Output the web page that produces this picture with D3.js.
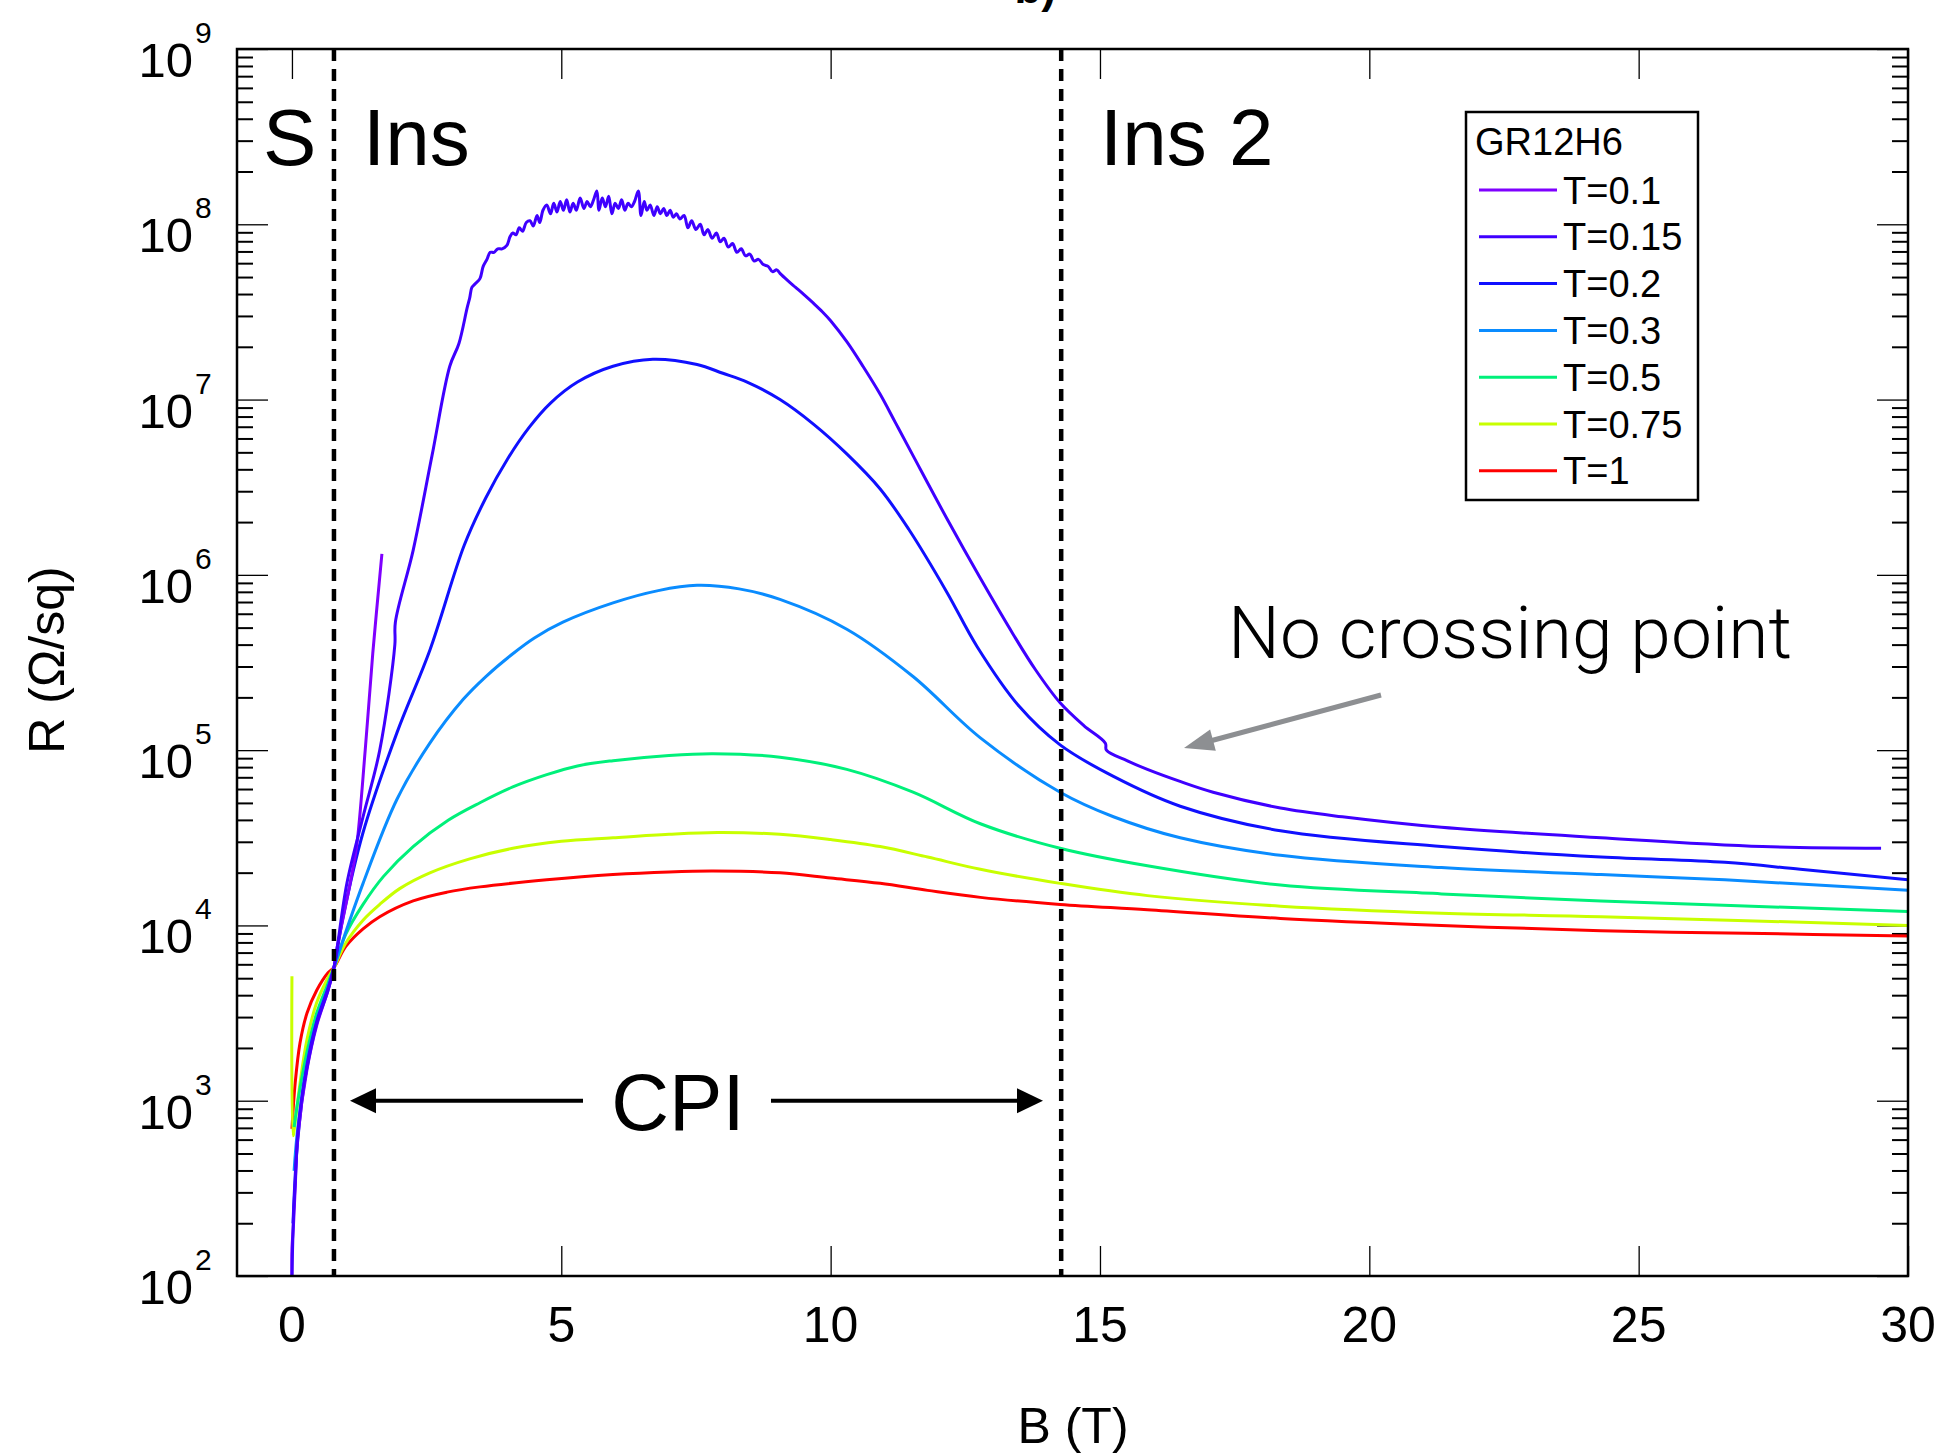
<!DOCTYPE html>
<html>
<head>
<meta charset="utf-8">
<script src="https://cdn.jsdelivr.net/npm/d3@7"></script>
<style>
  body { margin: 0; background: #fff; }
  svg { display: block; }
  text { font-family: "Liberation Sans", Arial, sans-serif; fill: #000; }
  .frame { fill: none; stroke: #000; stroke-width: 2.5; }
  .axis path { display: none; }
  .axis line { stroke: #000; }
  .major line { stroke-width: 1.3; }
  .minor line { stroke-width: 2; }
  .curve { fill: none; stroke-width: 3; stroke-linejoin: round; }
</style>
</head>
<body>
<script>
// ---- data ----
const labels = ['T=0.1', 'T=0.15', 'T=0.2', 'T=0.3', 'T=0.5', 'T=0.75', 'T=1'];
const colors = ['#7f00ff', '#3f00ff', '#1010ff', '#0a8cff', '#00f07a', '#c8ff00', '#ff0000'];

// B in tesla, R as log10(R / Ohm per square)
const bT01 = [0, 0, 0.03, 0.06, 0.11, 0.28, 0.46, 0.67, 0.78, 0.83, 1.08, 1.2, 1.36, 1.5, 1.67];
const rT01 = [2.0, 2.15, 2.3, 2.5, 2.8, 3.18, 3.43, 3.63, 3.76, 3.86, 4.24, 4.45, 5.0, 5.55, 6.12];

const bT015 = [0, 0.03, 0.06, 0.11, 0.2, 0.28, 0.46, 0.67, 0.78, 1.02, 1.32, 1.63, 1.91, 1.92, 2.25, 2.6, 2.93,
  3.1, 3.25, 3.3, 3.34, 3.4, 3.49, 3.55, 3.62, 3.68, 3.75, 3.82, 3.9, 3.99, 4.05, 4.1, 4.16, 4.22, 4.28, 4.35,
  4.42, 4.48, 4.55, 4.6, 4.66, 4.73, 4.8, 4.86, 4.92, 4.98, 5.04, 5.1, 5.16, 5.22, 5.28, 5.35, 5.42, 5.48, 5.54,
  5.6, 5.66, 5.7, 5.76, 5.82, 5.88, 5.94, 6.0, 6.06, 6.12, 6.18, 6.24, 6.3, 6.36, 6.43, 6.48, 6.54, 6.59, 6.65,
  6.72, 6.78, 6.84, 6.9, 6.96, 7.02, 7.08, 7.14, 7.2, 7.28, 7.35, 7.42, 7.5, 7.58, 7.65, 7.72, 7.8, 7.88, 7.95,
  8.02, 8.1, 8.18, 8.26, 8.34, 8.42, 8.5, 8.58, 8.66, 8.75, 8.84, 8.92, 9.0, 9.06, 9.2, 9.35, 9.5, 9.68, 9.85,
  10.0, 10.3, 10.6, 10.92, 11.2, 11.53, 12.16, 12.78, 13.39, 13.8, 14.26, 14.7, 15.1,
  15.12, 15.5, 15.88, 16.5, 17.1, 18.35, 19.5, 21.34, 24.3, 27.3, 29.5];
const rT015 = [2.0, 2.35, 2.53, 2.82, 3.05, 3.19, 3.44, 3.63, 3.76, 4.24, 4.62, 5.0, 5.6, 5.73, 6.14, 6.68, 7.19,
  7.32, 7.52, 7.58, 7.64, 7.66, 7.69, 7.76, 7.8, 7.84, 7.84, 7.86, 7.86, 7.88, 7.93, 7.95, 7.94, 7.98, 7.96, 8.01,
  8.02, 7.99, 8.05, 8.01, 8.08, 8.11, 8.06, 8.12, 8.07, 8.13, 8.08, 8.14, 8.07, 8.12, 8.08, 8.15, 8.09, 8.13, 8.1,
  8.14, 8.19, 8.08, 8.15, 8.1, 8.16, 8.06, 8.12, 8.09, 8.14, 8.08, 8.12, 8.1, 8.13, 8.19, 8.05, 8.13, 8.08, 8.11,
  8.05, 8.1, 8.06, 8.09, 8.05, 8.08, 8.04, 8.06, 8.03, 8.05, 7.98, 8.02, 7.97, 8.0, 7.94, 7.97, 7.92, 7.95, 7.9,
  7.92, 7.87, 7.89, 7.84, 7.86, 7.82, 7.83, 7.79, 7.8, 7.77, 7.76, 7.73, 7.74, 7.72, 7.68, 7.64, 7.6, 7.55, 7.5,
  7.45, 7.33, 7.19, 7.03, 6.87, 6.68, 6.32, 5.98, 5.66, 5.46, 5.27, 5.14, 5.04,
  5.0, 4.94, 4.89, 4.82, 4.76, 4.67, 4.62, 4.56, 4.5, 4.45, 4.44];

const bT02 = [0.02, 0.1, 0.28, 0.46, 0.67, 0.78, 0.95, 1.32, 1.95, 2.56, 3.2, 3.6, 4.0, 4.4, 4.8, 5.3, 5.96, 6.7,
  7.52, 8.0, 8.45, 9.06, 9.68, 10.3, 10.92, 11.45, 12.16, 12.72, 13.5, 14.26, 15.25, 16.49, 18.35, 21.34, 24.3,
  26.6, 28, 30];
const rT02 = [2.3, 2.75, 3.2, 3.45, 3.64, 3.76, 4.05, 4.53, 5.1, 5.57, 6.17, 6.44, 6.66, 6.84, 6.98, 7.1, 7.19, 7.23,
  7.2, 7.15, 7.1, 7.0, 6.86, 6.69, 6.49, 6.26, 5.9, 5.59, 5.25, 5.03, 4.85, 4.68, 4.54, 4.45, 4.39,
  4.36, 4.32, 4.26];

const bT03 = [0.04, 0.1, 0.28, 0.46, 0.67, 0.78, 1.32, 1.95, 2.56, 3.18, 3.6, 4.1, 4.5, 5.03, 5.96, 6.8, 7.52, 8.3,
  9.06, 10.3, 11.53, 12.78, 14.26, 15.25, 16.49, 18.35, 21.34, 24.3, 26.6, 30];
const rT03 = [2.6, 2.82, 3.22, 3.46, 3.65, 3.76, 4.24, 4.72, 5.04, 5.29, 5.42, 5.55, 5.64, 5.73, 5.84, 5.91, 5.94,
  5.92, 5.86, 5.69, 5.42, 5.07, 4.76, 4.62, 4.5, 4.4, 4.33, 4.29, 4.26, 4.2];

const bT05 = [0.04, 0.1, 0.28, 0.46, 0.67, 0.78, 1.0, 1.32, 1.7, 2.25, 2.9, 3.49, 4.1, 4.73, 5.3, 5.96, 7.0, 7.82,
  9.06, 10.3, 11.53, 12.78, 14.26, 15.88, 18.35, 21.34, 24.3, 30];
const rT05 = [2.85, 2.98, 3.28, 3.5, 3.67, 3.76, 3.95, 4.12, 4.28, 4.45, 4.6, 4.7, 4.79, 4.86, 4.91, 4.94, 4.97, 4.98,
  4.96, 4.89, 4.76, 4.58, 4.44, 4.34, 4.23, 4.18, 4.14, 4.08];

const bT075 = [0, 0.02, 0.06, 0.15, 0.28, 0.46, 0.65, 0.78, 1.0, 1.32, 1.63, 2.0, 2.56, 3.3, 4.1, 5.0, 5.96, 7.0,
  7.9, 9.06, 10.0, 10.92, 11.8, 12.78, 14.26, 15.88, 18.35, 21.34, 24.3, 30];
const rT075 = [3.71, 2.8, 2.88, 3.1, 3.35, 3.56, 3.69, 3.76, 3.9, 4.03, 4.12, 4.21, 4.3, 4.38, 4.44, 4.48, 4.5, 4.52,
  4.53, 4.52, 4.49, 4.45, 4.39, 4.32, 4.24, 4.17, 4.11, 4.07, 4.05, 4.0];

const bT1 = [0, 0.06, 0.15, 0.28, 0.46, 0.67, 0.78, 1.0, 1.32, 1.63, 2.25, 2.88, 3.49, 4.73, 5.96, 7.0, 7.82, 9.06,
  10.0, 10.92, 11.8, 12.78, 14.26, 15.88, 18.35, 21.34, 24.3, 27, 30];
const rT1 = [2.84, 3.1, 3.33, 3.5, 3.63, 3.73, 3.76, 3.88, 3.98, 4.05, 4.14, 4.19, 4.22, 4.26, 4.29, 4.305, 4.31, 4.3,
  4.27, 4.24, 4.2, 4.16, 4.12, 4.09, 4.04, 4.0, 3.97, 3.955, 3.94];

const seriesB = [bT01, bT015, bT02, bT03, bT05, bT075, bT1];
const seriesR = [rT01, rT015, rT02, rT03, rT05, rT075, rT1];
const drawOrder = [6, 5, 4, 3, 2, 0, 1];

const xTicks = [0, 5, 10, 15, 20, 25, 30];
const yDecades = [2, 3, 4, 5, 6, 7, 8, 9];
const phaseLines = [0.78, 14.28];

// ---- layout ----
const W = 1943, H = 1455;
const x = d3.scaleLinear().domain([-1.02, 30]).range([237, 1908]);
const y = d3.scaleLog().domain([1e2, 1e9]).range([1276, 49]);

const svg = d3.select(document.body).append('svg')
  .attr('width', W)
  .attr('height', H);

svg.append('defs').append('clipPath').attr('id', 'plot')
  .append('rect')
  .attr('x', x.range()[0]).attr('y', y.range()[1])
  .attr('width', x.range()[1] - x.range()[0])
  .attr('height', y.range()[0] - y.range()[1]);

const majorY = yDecades.map(e => Math.pow(10, e));
const minorY = [];
yDecades.slice(0, -1).forEach(e => {
  for (let k = 2; k <= 9; k++) minorY.push(k * Math.pow(10, e));
});

// ticks (all inward)
svg.append('g').attr('class', 'axis major')
  .attr('transform', `translate(${x.range()[0]},0)`)
  .call(d3.axisLeft(y).tickValues(majorY).tickSize(-31).tickSizeOuter(0).tickFormat(''));
svg.append('g').attr('class', 'axis minor')
  .attr('transform', `translate(${x.range()[0]},0)`)
  .call(d3.axisLeft(y).tickValues(minorY).tickSize(-16).tickSizeOuter(0).tickFormat(''));
svg.append('g').attr('class', 'axis major')
  .attr('transform', `translate(${x.range()[1]},0)`)
  .call(d3.axisRight(y).tickValues(majorY).tickSize(-31).tickSizeOuter(0).tickFormat(''));
svg.append('g').attr('class', 'axis minor')
  .attr('transform', `translate(${x.range()[1]},0)`)
  .call(d3.axisRight(y).tickValues(minorY).tickSize(-16).tickSizeOuter(0).tickFormat(''));
svg.append('g').attr('class', 'axis major')
  .attr('transform', `translate(0,${y.range()[0]})`)
  .call(d3.axisBottom(x).tickValues(xTicks).tickSize(-30).tickSizeOuter(0).tickFormat(''));
svg.append('g').attr('class', 'axis major')
  .attr('transform', `translate(0,${y.range()[1]})`)
  .call(d3.axisTop(x).tickValues(xTicks).tickSize(-30).tickSizeOuter(0).tickFormat(''));

// tick labels
const yLab = svg.append('g');
yDecades.forEach(e => {
  const yy = y(Math.pow(10, e));
  yLab.append('text')
    .attr('x', 193).attr('y', yy + 28)
    .attr('text-anchor', 'end')
    .style('font-size', '49px')
    .text('10');
  yLab.append('text')
    .attr('x', 195).attr('y', yy - 6)
    .style('font-size', '30px')
    .text(e);
});
svg.append('g').selectAll('text')
  .data(xTicks)
  .enter().append('text')
  .attr('x', d => x(d))
  .attr('y', 1342)
  .attr('text-anchor', 'middle')
  .style('font-size', '50px')
  .text(d => d);

// axis titles
svg.append('text')
  .attr('x', 1073).attr('y', 1443)
  .attr('text-anchor', 'middle')
  .style('font-size', '50px')
  .text('B (T)');
svg.append('text')
  .attr('transform', 'translate(64,660) rotate(-90)')
  .attr('text-anchor', 'middle')
  .style('font-size', '50px')
  .text('R (\u03A9/sq)');

// curves
const line = d3.line()
  .curve(d3.curveCatmullRom.alpha(0.5))
  .x(d => x(d[0]))
  .y(d => y(Math.pow(10, d[1])));

const curves = svg.append('g').attr('clip-path', 'url(#plot)');
drawOrder.forEach(i => {
  const pts = seriesB[i].map((b, j) => [b, seriesR[i][j]]);
  curves.append('path')
    .attr('class', 'curve')
    .attr('d', line(pts))
    .style('stroke', colors[i]);
});

// dashed phase boundaries
svg.append('g').selectAll('line')
  .data(phaseLines)
  .enter().append('line')
  .attr('x1', d => x(d)).attr('x2', d => x(d))
  .attr('y1', y.range()[1]).attr('y2', y.range()[0])
  .style('stroke', '#000')
  .style('stroke-width', 4.5)
  .style('stroke-dasharray', '12,8');

// frame
svg.append('rect')
  .attr('class', 'frame')
  .attr('x', x.range()[0]).attr('y', y.range()[1])
  .attr('width', x.range()[1] - x.range()[0])
  .attr('height', y.range()[0] - y.range()[1]);

// region labels
const big = [
  { t: 'S', x: 263, y: 165 },
  { t: 'Ins', x: 363, y: 165 },
  { t: 'Ins 2', x: 1100, y: 165 }
];
svg.append('g').selectAll('text')
  .data(big)
  .enter().append('text')
  .attr('x', d => d.x).attr('y', d => d.y)
  .style('font-size', '80px')
  .text(d => d.t);

// CPI with double arrow
const cpiY = y(1e3);
svg.append('text')
  .attr('x', 678).attr('y', 1130)
  .attr('text-anchor', 'middle')
  .style('font-size', '80px')
  .text('CPI');
function arrow(x1, x2, yy) {
  const dir = Math.sign(x2 - x1);
  const g = svg.append('g');
  g.append('line')
    .attr('x1', x1).attr('x2', x2 - dir * 20)
    .attr('y1', yy).attr('y2', yy)
    .style('stroke', '#000').style('stroke-width', 4);
  g.append('path')
    .attr('d', `M${x2},${yy}L${x2 - dir * 26},${yy - 12.5}L${x2 - dir * 26},${yy + 12.5}Z`)
    .style('fill', '#000');
}
arrow(583, 350, cpiY);
arrow(771, 1043, cpiY);

// "No crossing point" annotation
svg.append('text')
  .attr('x', 1228).attr('y', 658)
  .attr('textLength', 564)
  .attr('lengthAdjust', 'spacingAndGlyphs')
  .style('font-family', 'Roboto, "Liberation Sans", sans-serif')
  .style('font-weight', 300)
  .style('font-size', '73px')
  .text('No crossing point');
(function () {
  const x1 = 1381, y1 = 695, x2 = 1184, y2 = 748;
  const ang = Math.atan2(y2 - y1, x2 - x1);
  const len = 30, hw = 11;
  const bx = x2 - len * Math.cos(ang), by = y2 - len * Math.sin(ang);
  svg.append('line')
    .attr('x1', x1).attr('y1', y1)
    .attr('x2', bx + 4 * Math.cos(ang)).attr('y2', by + 4 * Math.sin(ang))
    .style('stroke', '#8d8f92').style('stroke-width', 5);
  svg.append('path')
    .attr('d', `M${x2},${y2}L${bx - hw * Math.sin(ang)},${by + hw * Math.cos(ang)}L${bx + hw * Math.sin(ang)},${by - hw * Math.cos(ang)}Z`)
    .style('fill', '#8d8f92');
})();

// legend
const lg = svg.append('g');
lg.append('rect')
  .attr('x', 1466).attr('y', 112)
  .attr('width', 232).attr('height', 388)
  .style('fill', '#fff').style('stroke', '#000').style('stroke-width', 2.5);
lg.append('text')
  .attr('x', 1475).attr('y', 155)
  .style('font-size', '38px')
  .text('GR12H6');
labels.forEach((lab, i) => {
  const cy = 190 + i * 46.8;
  lg.append('line')
    .attr('x1', 1479).attr('x2', 1557)
    .attr('y1', cy).attr('y2', cy)
    .style('stroke', colors[i]).style('stroke-width', 3);
  lg.append('text')
    .attr('x', 1563).attr('y', cy + 13.5)
    .style('font-size', '38px')
    .text(lab);
});

// cut-off panel letter at the very top
svg.append('text')
  .attr('x', 1056).attr('y', 3)
  .attr('text-anchor', 'end')
  .style('font-size', '44px')
  .style('font-weight', 'bold')
  .text('b)');
</script>
</body>
</html>
